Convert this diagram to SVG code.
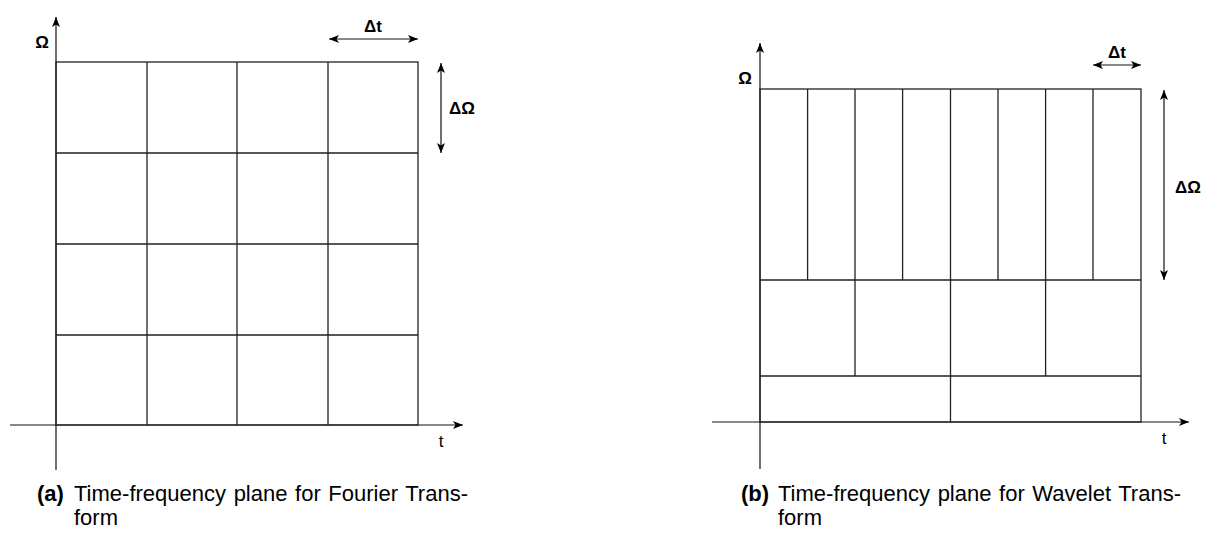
<svg xmlns="http://www.w3.org/2000/svg" width="1206" height="556" viewBox="0 0 1206 556">
<style>
.g{stroke:#222;stroke-width:1.3;fill:none}
.ax{stroke:#111;stroke-width:1.2;fill:none}
.lbl{font-family:"Liberation Sans",Arial,sans-serif;font-weight:bold;font-size:17px;fill:#000}
.t{font-family:"Liberation Sans",Arial,sans-serif;font-size:17px;fill:#000}
.cap{font-family:"Liberation Sans",Arial,sans-serif;font-size:22px;fill:#000}
</style>
<defs>
<marker id="ah" viewBox="0 0 10 8" refX="10" refY="4" markerWidth="10" markerHeight="8" markerUnits="userSpaceOnUse" orient="auto-start-reverse">
<path d="M0,0 L10,4 L0,8 L2.5,4 Z" fill="#000"/>
</marker>
</defs>
<g id="connectors">
<line class="ax" x1="56" y1="470" x2="56" y2="17" marker-end="url(#ah)"/>
<line class="ax" x1="10" y1="425" x2="463" y2="425" marker-end="url(#ah)"/>
<line class="ax" x1="329" y1="39" x2="418" y2="39" marker-start="url(#ah)" marker-end="url(#ah)"/>
<line class="ax" x1="441" y1="63" x2="441" y2="153" marker-start="url(#ah)" marker-end="url(#ah)"/>
<line class="ax" x1="760" y1="469" x2="760" y2="43" marker-end="url(#ah)"/>
<line class="ax" x1="712" y1="422" x2="1189" y2="422" marker-end="url(#ah)"/>
<line class="ax" x1="1093" y1="65" x2="1141" y2="65" marker-start="url(#ah)" marker-end="url(#ah)"/>
<line class="ax" x1="1164" y1="90" x2="1164" y2="280" marker-start="url(#ah)" marker-end="url(#ah)"/>
</g>
<g id="fourier-grid">
<rect class="g" x="56" y="62" width="362" height="363"/>
<path class="g" d="M147,62V425M237,62V425M328,62V425M56,153H418M56,244H418M56,335H418"/>
</g>
<g id="wavelet-grid">
<rect class="g" x="760" y="89" width="381" height="333"/>
<path class="g" d="M807.6,89V280M855,89V376M902.6,89V280M950.5,89V422M998,89V280M1045.6,89V376M1093,89V280M760,280H1141M760,376H1141"/>
</g>
<g id="labels-a">
<text class="lbl" x="42" y="48" text-anchor="middle">Ω</text>
<text class="lbl" x="373" y="32" text-anchor="middle">Δt</text>
<text class="lbl" x="462" y="114" text-anchor="middle">ΔΩ</text>
<text class="t" x="441" y="447" text-anchor="middle">t</text>
</g>
<g id="labels-b">
<text class="lbl" x="745" y="84" text-anchor="middle">Ω</text>
<text class="lbl" x="1117" y="58" text-anchor="middle">Δt</text>
<text class="lbl" x="1188" y="193" text-anchor="middle">ΔΩ</text>
<text class="t" x="1164" y="444" text-anchor="middle">t</text>
</g>
<g id="caption-a">
<text class="cap" x="37" y="501"><tspan font-weight="bold">(a)</tspan><tspan x="74" word-spacing="1.5">Time-frequency plane for Fourier Trans-</tspan></text>
<text class="cap" x="74" y="525">form</text>
</g>
<g id="caption-b">
<text class="cap" x="741" y="501"><tspan font-weight="bold">(b)</tspan><tspan x="778" word-spacing="1.5">Time-frequency plane for Wavelet Trans-</tspan></text>
<text class="cap" x="778" y="525">form</text>
</g>
</svg>
